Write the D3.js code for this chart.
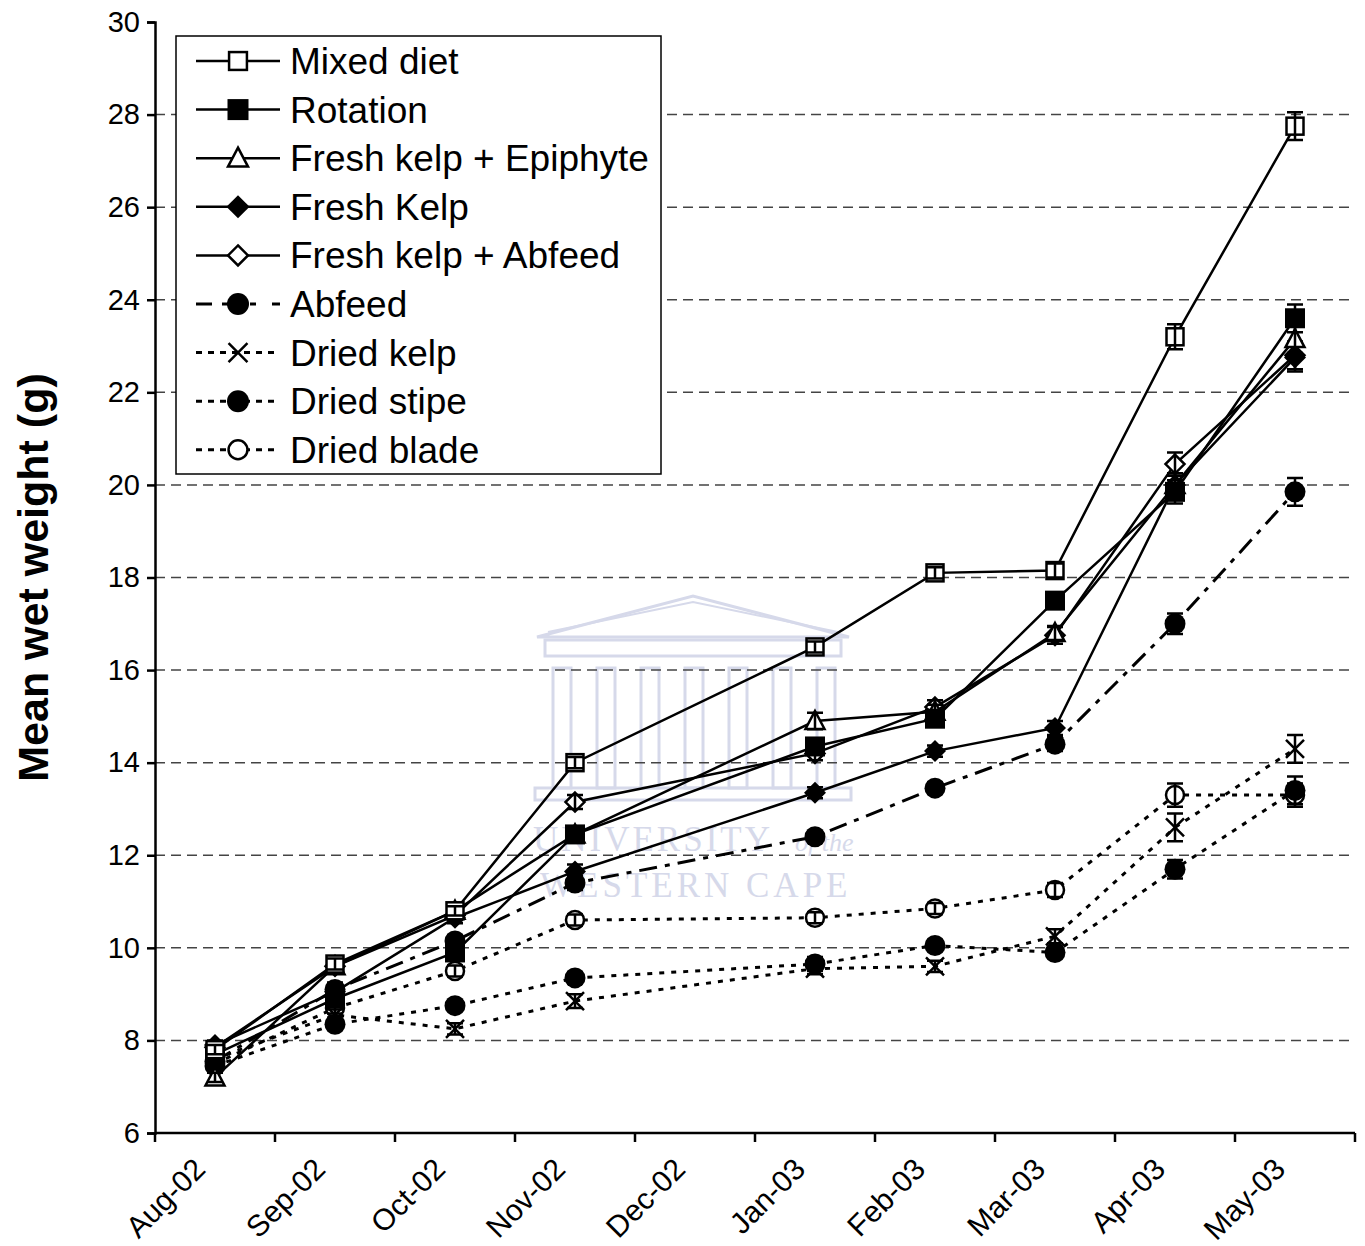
<!DOCTYPE html>
<html>
<head>
<meta charset="utf-8">
<script src="https://cdn.jsdelivr.net/npm/d3@7"></script>
<style>
  html, body { margin: 0; padding: 0; background: #fff; }
  svg { display: block; font-family: "Liberation Sans", Arial, sans-serif; }
</style>
</head>
<body>
<svg id="chart" width="1365" height="1246"></svg>
<script>
// ---------------- data ----------------
const categories = ["Aug-02","Sep-02","Oct-02","Nov-02","Dec-02","Jan-03","Feb-03","Mar-03","Apr-03","May-03"];
const yTickValues = [6,8,10,12,14,16,18,20,22,24,26,28,30];
const seriesNames = ["Mixed diet","Rotation","Fresh kelp + Epiphyte","Fresh Kelp","Fresh kelp + Abfeed","Abfeed","Dried kelp","Dried stipe","Dried blade"];

const mixedDiet       = [7.80, 9.65, 10.80, 14.00, null, 16.50, 18.10, 18.15, 23.20, 27.75];
const rotation        = [7.70, 8.90,  9.90, 12.45, null, 14.35, 14.95, 17.50, 19.85, 23.60];
const freshKelpEpi    = [7.20, 9.60, 10.80, 12.45, null, 14.90, 15.10, 16.80, 20.00, 23.15];
const freshKelp       = [7.90, 9.05, 10.65, 11.65, null, 13.35, 14.25, 14.75, 20.00, 22.75];
const freshKelpAbfeed = [7.85, 9.60, 10.70, 13.15, null, 14.20, 15.20, 16.75, 20.45, 22.80];
const abfeed          = [7.55, 9.10, 10.15, 11.40, null, 12.40, 13.45, 14.40, 17.00, 19.85];
const driedKelp       = [7.60, 8.55,  8.25,  8.85, null,  9.55,  9.60, 10.25, 12.60, 14.30];
const driedStipe      = [7.45, 8.35,  8.75,  9.35, null,  9.65, 10.05,  9.90, 11.70, 13.40];
const driedBlade      = [7.50, 8.70,  9.50, 10.60, null, 10.65, 10.85, 11.25, 13.30, 13.30];

const mixedDietErr       = [0.10, 0.12, 0.10, 0.12, null, 0.12, 0.12, 0.15, 0.27, 0.30];
const rotationErr        = [0.10, 0.12, 0.12, 0.15, null, 0.15, 0.15, 0.15, 0.25, 0.30];
const freshKelpEpiErr    = [0.10, 0.12, 0.10, 0.15, null, 0.18, 0.15, 0.15, 0.25, 0.30];
const freshKelpErr       = [0.10, 0.15, 0.12, 0.15, null, 0.12, 0.12, 0.15, 0.25, 0.30];
const freshKelpAbfeedErr = [0.10, 0.12, 0.10, 0.15, null, 0.15, 0.15, 0.18, 0.25, 0.30];
const abfeedErr          = [0.10, 0.15, 0.12, 0.15, null, 0.12, 0.12, 0.15, 0.22, 0.30];
const driedKelpErr       = [0.10, 0.12, 0.12, 0.15, null, 0.12, 0.12, 0.15, 0.30, 0.30];
const driedStipeErr      = [0.10, 0.12, 0.10, 0.12, null, 0.15, 0.12, 0.12, 0.20, 0.30];
const driedBladeErr      = [0.10, 0.12, 0.12, 0.12, null, 0.12, 0.12, 0.15, 0.25, 0.25];

const seriesValues = [mixedDiet, rotation, freshKelpEpi, freshKelp, freshKelpAbfeed, abfeed, driedKelp, driedStipe, driedBlade];
const seriesErrors = [mixedDietErr, rotationErr, freshKelpEpiErr, freshKelpErr, freshKelpAbfeedErr, abfeedErr, driedKelpErr, driedStipeErr, driedBladeErr];
const seriesMarkers = ["squareOpen","squareFilled","triangleOpen","diamondFilled","diamondOpen","circleFilled","cross","circleFilled","circleOpen"];
const seriesDash = ["none","none","none","none","none","18,8,5,8","5,7","5,7","5,7"];

// ---------------- layout ----------------
const svg = d3.select("#chart");
const pLeft = 155, pRight = 1355, pTop = 22, pBottom = 1133;
const FONT = "'Liberation Sans', Arial, sans-serif";

const x = d3.scaleBand().domain(categories).range([pLeft, pRight]).padding(0);
const y = d3.scaleLinear().domain([6, 30]).range([pBottom, pTop]);
const cx = c => x(c) + x.bandwidth() / 2;

// ---------------- watermark ----------------
const wm = svg.append("g").attr("fill", "none").attr("stroke", "#d6d9ea").attr("stroke-width", 3);
wm.append("path").attr("d", "M537,637 L693,596 L849,637 Z");
wm.append("path").attr("d", "M548,632 L693,602 L838,632").attr("stroke-width", 2);
wm.append("rect").attr("x", 545).attr("y", 640).attr("width", 296).attr("height", 16);
[0,1,2,3,4,5,6].forEach(i => {
  wm.append("rect").attr("x", 553 + i * 44).attr("y", 668).attr("width", 18).attr("height", 120);
});
wm.append("rect").attr("x", 535).attr("y", 788).attr("width", 316).attr("height", 12);
const wmt = svg.append("g").attr("fill", "#d6d9ea").attr("font-family", "'Liberation Serif', 'DejaVu Serif', serif");
wmt.append("text").attr("x", 533).attr("y", 851).attr("font-size", 35).attr("letter-spacing", 3).text("UNIVERSITY");
wmt.append("text").attr("x", 795).attr("y", 851).attr("font-size", 26).attr("font-style", "italic").text("of the");
wmt.append("text").attr("x", 540).attr("y", 897).attr("font-size", 35).attr("letter-spacing", 4).text("WESTERN CAPE");

// ---------------- grid ----------------
svg.append("g")
  .selectAll("line")
  .data(yTickValues.filter(v => v > 6 && v < 30))
  .join("line")
  .attr("x1", pLeft).attr("x2", pRight)
  .attr("y1", d => y(d)).attr("y2", d => y(d))
  .attr("stroke", "#444").attr("stroke-width", 1.5)
  .attr("stroke-dasharray", "10,6");

// ---------------- axes ----------------
const yAxis = d3.axisLeft(y).tickValues(yTickValues).tickSize(8).tickPadding(7).tickFormat(d3.format("d"));
const gy = svg.append("g").attr("transform", `translate(${pLeft},0)`).call(yAxis);
gy.select(".domain").attr("stroke", "#000").attr("stroke-width", 2.5);
gy.selectAll(".tick line").attr("stroke", "#000").attr("stroke-width", 2.5);
gy.selectAll(".tick text").attr("font-size", 29).attr("fill", "#000").attr("font-family", FONT);

const boundaries = categories.map(c => x(c)).concat([pRight]);
const gx = svg.append("g");
gx.append("line").attr("x1", pLeft).attr("x2", pRight).attr("y1", pBottom).attr("y2", pBottom)
  .attr("stroke", "#000").attr("stroke-width", 2.5);
gx.selectAll("line.tk").data(boundaries).join("line").attr("class", "tk")
  .attr("x1", d => d).attr("x2", d => d).attr("y1", pBottom).attr("y2", pBottom + 9)
  .attr("stroke", "#000").attr("stroke-width", 2.5);
gx.selectAll("text").data(categories).join("text")
  .attr("transform", d => `translate(${cx(d) - 8},${pBottom + 38}) rotate(-45)`)
  .attr("text-anchor", "end")
  .attr("font-size", 30)
  .attr("font-family", FONT)
  .attr("fill", "#000")
  .text(d => d);

svg.append("text")
  .attr("transform", `translate(48,${(pTop + pBottom) / 2}) rotate(-90)`)
  .attr("text-anchor", "middle")
  .attr("font-size", 43)
  .attr("font-weight", "bold")
  .attr("font-family", FONT)
  .text("Mean wet weight (g)");

// ---------------- markers ----------------
function drawMarker(g, type, px, py, scale) {
  const s = scale || 1;
  if (type === "squareOpen") {
    g.append("rect").attr("x", px - 8.5 * s).attr("y", py - 8.5 * s).attr("width", 17 * s).attr("height", 17 * s)
      .attr("fill", "#fff").attr("stroke", "#000").attr("stroke-width", 2.5);
  } else if (type === "squareFilled") {
    g.append("rect").attr("x", px - 10 * s).attr("y", py - 10 * s).attr("width", 20 * s).attr("height", 20 * s)
      .attr("fill", "#000");
  } else if (type === "triangleOpen") {
    g.append("path").attr("d", `M${px},${py - 10 * s} L${px + 9.5 * s},${py + 8 * s} L${px - 9.5 * s},${py + 8 * s} Z`)
      .attr("fill", "#fff").attr("stroke", "#000").attr("stroke-width", 2.5);
  } else if (type === "diamondFilled") {
    g.append("path").attr("d", `M${px},${py - 11 * s} L${px + 11 * s},${py} L${px},${py + 11 * s} L${px - 11 * s},${py} Z`)
      .attr("fill", "#000");
  } else if (type === "diamondOpen") {
    g.append("path").attr("d", `M${px},${py - 9.5 * s} L${px + 9.5 * s},${py} L${px},${py + 9.5 * s} L${px - 9.5 * s},${py} Z`)
      .attr("fill", "#fff").attr("stroke", "#000").attr("stroke-width", 2.5);
  } else if (type === "circleFilled") {
    g.append("circle").attr("cx", px).attr("cy", py).attr("r", 10.5 * s).attr("fill", "#000");
  } else if (type === "circleOpen") {
    g.append("circle").attr("cx", px).attr("cy", py).attr("r", 9 * s)
      .attr("fill", "#fff").attr("stroke", "#000").attr("stroke-width", 2.5);
  } else if (type === "cross") {
    const d = 9 * s;
    g.append("path").attr("d", `M${px - d},${py - d} L${px + d},${py + d} M${px - d},${py + d} L${px + d},${py - d}`)
      .attr("stroke", "#000").attr("stroke-width", 2.5).attr("fill", "none");
  }
}

// ---------------- series ----------------
const lineGen = d3.line().x(d => cx(d.c)).y(d => y(d.v));
const order = d3.range(seriesNames.length).reverse();
order.forEach(i => {
  const pts = categories.map((c, k) => ({ c, v: seriesValues[i][k], e: seriesErrors[i][k] })).filter(d => d.v !== null);
  const g = svg.append("g");
  g.append("path").attr("d", lineGen(pts)).attr("fill", "none").attr("stroke", "#000")
    .attr("stroke-width", seriesDash[i] === "none" ? 2.5 : 3)
    .attr("stroke-dasharray", seriesDash[i] === "none" ? null : seriesDash[i]);
  pts.forEach(p => {
    const px = cx(p.c);
    drawMarker(g, seriesMarkers[i], px, y(p.v));
    const y1 = y(p.v + p.e), y2 = y(p.v - p.e);
    g.append("path").attr("d", `M${px},${y1} L${px},${y2} M${px - 8},${y1} L${px + 8},${y1} M${px - 8},${y2} L${px + 8},${y2}`)
      .attr("stroke", "#000").attr("stroke-width", 2.5).attr("fill", "none");
  });
});

// ---------------- legend ----------------
const lg = svg.append("g");
lg.append("rect").attr("x", 176).attr("y", 36).attr("width", 485).attr("height", 438)
  .attr("fill", "#fff").attr("stroke", "#000").attr("stroke-width", 1.5);
seriesNames.forEach((name, i) => {
  const ly = 61 + i * 48.6;
  lg.append("line").attr("x1", 196).attr("x2", 280).attr("y1", ly).attr("y2", ly)
    .attr("stroke", "#000").attr("stroke-width", seriesDash[i] === "none" ? 2.5 : 3)
    .attr("stroke-dasharray", seriesDash[i] === "none" ? null : (i === 5 ? "16,10,6,8,6,8,6" : "6,6"));
  drawMarker(lg, seriesMarkers[i], 238, ly, 1.05);
  lg.append("text").attr("x", 290).attr("y", ly + 13).attr("font-size", 37)
    .attr("font-family", FONT).attr("fill", "#000").text(name);
});
</script>
</body>
</html>
